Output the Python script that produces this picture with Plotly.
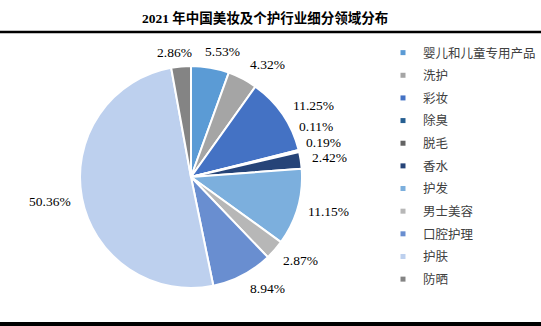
import math
import plotly.graph_objects as go

categories = ["婴儿和儿童专用产品", "洗护", "彩妆", "除臭", "脱毛", "香水",
              "护发", "男士美容", "口腔护理", "护肤", "防晒"]
values = [5.53, 4.32, 11.25, 0.11, 0.19, 2.42, 11.15, 2.87, 8.94, 50.36, 2.86]
colors = ["#5B9BD5", "#A5A5A5", "#4472C4", "#255E91", "#636363", "#264478",
          "#7CAFDD", "#B7B7B7", "#698ED0", "#BDD0EE", "#848484"]
title_text = "2021 年中国美妆及个护行业细分领域分布"

W, H = 541, 326
cx, cy, r = 191, 177, 111

# small hand-adjustments of label placement (pixels), like manual label drags
label_nudge = [(7.5, -2), (12, -2), (8, -1), (-9, -20), (-2, -4.5), (2.5, 0.5),
               (5, 2), (5.5, 3.5), (12, 3), (-5.5, 2), (-4, 0)]

fig = go.Figure()
fig.add_trace(go.Pie(
    labels=categories, values=values, sort=False, direction="clockwise",
    rotation=0,
    marker=dict(colors=colors, line=dict(color="white", width=2)),
    textinfo="none",
    showlegend=False, hoverinfo="label+value",
    domain=dict(x=[(cx - r) / W, (cx + r) / W],
                y=[(H - cy - r) / H, (H - cy + r) / H]),
))
for name, col in zip(categories, colors):
    fig.add_trace(go.Scatter(
        x=[None], y=[None], mode="markers", name=name, legendgroup=name,
        marker=dict(symbol="square", size=5, color=col),
    ))

# outside-end data labels placed from each slice's mid-angle
total = sum(values)
annotations = []
cum = 0.0
for v, (dx, dy) in zip(values, label_nudge):
    ang = (cum + v / 2) / total * 2 * math.pi
    cum += v
    s, c = math.sin(ang), math.cos(ang)
    px = cx + (r + 8) * s + 19 * s + dx
    py = cy - (r + 8) * c - 5 * c + dy
    annotations.append(dict(
        x=px / W, y=1 - (py - 1) / H, xref="paper", yref="paper",
        text=f"{v:.2f}%", showarrow=False, xanchor="center", yanchor="middle",
        font=dict(family="Liberation Serif", size=13.5, color="#000000"),
    ))

fig.update_layout(
    width=W, height=H,
    margin=dict(l=0, r=0, t=0, b=0, autoexpand=False),
    paper_bgcolor="white", plot_bgcolor="white",
    xaxis=dict(visible=False), yaxis=dict(visible=False),
    title=dict(text="<b>" + title_text + "</b>", x=0.49, xanchor="center",
               y=1 - 18 / H, yanchor="middle",
               font=dict(family="Liberation Serif, Noto Sans CJK SC", size=13.5, color="#000000")),
    legend=dict(x=383 / W, y=1 - 38 / H, xanchor="left", yanchor="top",
                font=dict(family="Noto Sans CJK SC", size=12.5, color="#404040"),
                itemsizing="trace", tracegroupgap=3.4, itemwidth=30,
                bgcolor="rgba(0,0,0,0)"),
    annotations=annotations,
    shapes=[
        dict(type="line", xref="paper", yref="paper", x0=0, x1=1,
             y0=1 - 32 / H, y1=1 - 32 / H, line=dict(color="black", width=2.5)),
        dict(type="rect", xref="paper", yref="paper", x0=0, x1=1,
             y0=0, y1=4 / H, line=dict(width=0), fillcolor="black"),
    ],
)
fig.write_html("out.html")
